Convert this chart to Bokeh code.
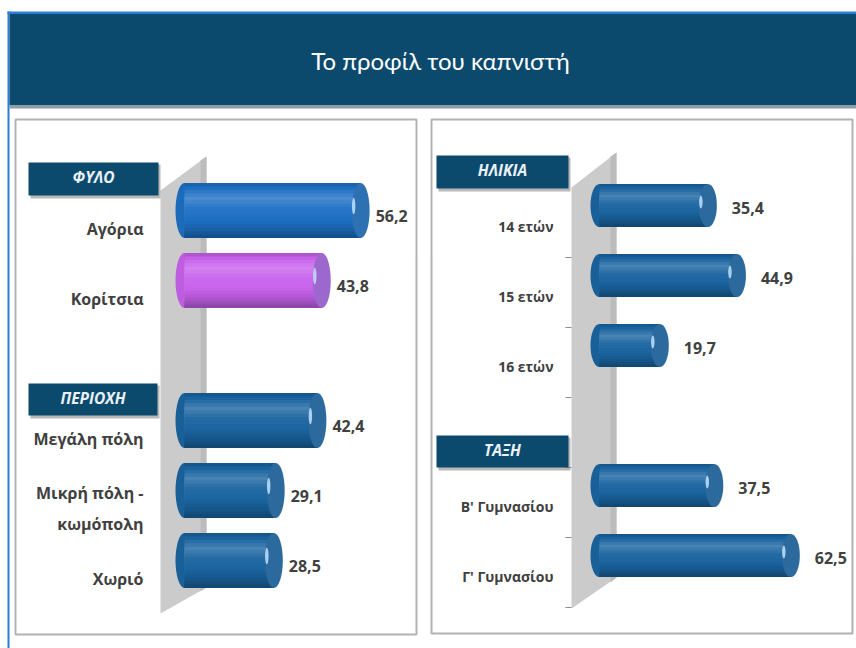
from bokeh.plotting import figure
from bokeh.models import Range1d
from bokeh.core.properties import value
from bokeh.embed import file_html
from bokeh.resources import INLINE

# ---------------- data ----------------
title = "Το προφίλ του καπνιστή"

left_groups = ["ΦΥΛΟ", "ΠΕΡΙΟΧΗ"]
left_cats = [["Αγόρια", "Κορίτσια"], ["Μεγάλη πόλη", "Μικρή πόλη -\nκωμόπολη", "Χωριό"]]
left_vals = [[56.2, 43.8], [42.4, 29.1, 28.5]]

right_groups = ["ΗΛΙΚΙΑ", "ΤΑΞΗ"]
right_cats = [["14 ετών", "15 ετών", "16 ετών"], ["Β' Γυμνασίου", "Γ' Γυμνασίου"]]
right_vals = [[35.4, 44.9, 19.7], [37.5, 62.5]]

left_colors = ["#1e70c4", "#c862ec", "#1a64a0", "#1a64a0", "#1a64a0"]
right_colors = ["#1a64a0"] * 5

# ---------------- helpers ----------------
W, H = 856, 648
FONT = "Lato"
LFONT = "Open Sans"


def slots(groups):
    out, k = [], 0
    for g, cats in enumerate(groups):
        if g > 0:
            k += 1
        for _ in cats:
            out.append(k)
            k += 1
    return out


def flat(groups):
    return [c for g in groups for c in g]


def mix(c1, c2, f):
    a = [int(c1[i:i + 2], 16) for i in (1, 3, 5)]
    b = [int(c2[i:i + 2], 16) for i in (1, 3, 5)]
    return "#" + "".join(f"{round(x + (y - x) * f):02x}" for x, y in zip(a, b))


def shade(c, s):
    return mix(c, "#ffffff", s) if s >= 0 else mix(c, "#000000", -s)


def fmt(v):
    return f"{v:.1f}".replace(".", ",")


p = figure(width=W, height=H, x_range=Range1d(0, W), y_range=Range1d(H, 0),
           output_backend="svg", toolbar_location=None, min_border=0,
           x_axis_location=None, y_axis_location=None, outline_line_color=None,
           background_fill_color="white", border_fill_color="white")
p.xgrid.visible = False
p.ygrid.visible = False

# value scales of the two panels (pixel origin, pixels per unit)
LX0, LB = 184, 3.134
RX0, RB = 599, 3.061
LY0, RY0, DY = 210, 205, 70
p.extra_x_ranges = {"L": Range1d(-LX0 / LB, (W - LX0) / LB),
                    "R": Range1d(-RX0 / RB, (W - RX0) / RB)}
p.extra_y_ranges = {"L": Range1d((H - LY0) / DY, -LY0 / DY),
                    "R": Range1d((H - RY0) / DY, -RY0 / DY)}

# ---------------- frame / header ----------------
p.quad(left=7, right=W, top=11, bottom=13.5, fill_color="#2a7fd4", line_color=None)
p.quad(left=7, right=9, top=11, bottom=H, fill_color="#2a7fd4", line_color=None)
p.quad(left=9, right=W, top=13.5, bottom=105, fill_color="#0b4a6d", line_color=None)
p.quad(left=9, right=W, top=105, bottom=108, fill_color="#8e9da4", line_color=None)
p.text(x=[440], y=[60], text=[title], text_color="white", text_font=value(FONT),
       text_font_size="24px", text_align="center", text_baseline="middle")

# panels
p.quad(left=[15, 431], right=[416, 852], top=[119, 119], bottom=[634, 633],
       fill_color="white", line_color="#b2b2b2", line_width=2)

# 3-D back walls
p.patches(xs=[[160, 206, 206, 160], [571, 616, 616, 571]],
          ys=[[190, 156, 587, 613], [187, 152, 577, 608]],
          fill_color="#cbcbcb", line_color=None)
p.patches(xs=[[200, 206, 206, 200], [610, 616, 616, 610]],
          ys=[[160, 156, 587, 591], [156, 152, 577, 582]],
          fill_color="#bcbcbc", line_color=None)

# right panel axis ticks (category boundaries on the front plane)
r_slots = slots(right_cats)
ticks = [i + 0.5 + 17 / DY for i in range(max(r_slots) + 1)]
p.segment(x0=565, x1=571, y0=ticks, y1=ticks, line_color="#8c8c8c", line_width=1,
          y_range_name="R")

# section boxes
boxes = [(28, 158, 162, 195, left_groups[0]), (28, 157, 383, 415, left_groups[1]),
         (436, 568, 155, 188, right_groups[0]), (436, 568, 435, 467, right_groups[1])]
p.quad(left=[b[0] + 2 for b in boxes], right=[b[1] + 2 for b in boxes],
       top=[b[2] + 2 for b in boxes], bottom=[b[3] + 3 for b in boxes],
       fill_color="#7d7d7d", fill_alpha=0.55, line_color=None)
p.quad(left=[b[0] for b in boxes], right=[b[1] for b in boxes],
       top=[b[2] for b in boxes], bottom=[b[3] for b in boxes],
       fill_color="#0b4a6d", line_color=None)
p.text(x=[(b[0] + b[1]) / 2 for b in boxes], y=[(b[2] + b[3]) / 2 - 2 for b in boxes],
       text=[b[4] for b in boxes], text_color="#eaf1f7", text_font=value(LFONT),
       text_font_style="bold italic", text_font_size="15.5px",
       text_align="center", text_baseline="middle")

# vertical shading profile of a cylinder (top -> bottom): (position, lightness)
PROFILE = [(0.0, -0.18), (0.1, 0.0), (0.28, 0.2), (0.45, 0.05), (0.65, 0.0),
           (0.85, -0.15), (1.0, -0.32)]
NSTRIP = 16


def profile_at(t):
    for (t0, s0), (t1, s1) in zip(PROFILE, PROFILE[1:]):
        if t0 <= t <= t1:
            return s0 + (s1 - s0) * (t - t0) / (t1 - t0)
    return PROFILE[-1][1]


# ---------------- cylinders ----------------
def cylinders(vals, pos, colors, xr, yr, hpx, scale):
    h = hpx / DY
    cap = [mix(c, "#4c7294", 0.35) for c in colors]
    zeros = [0] * len(vals)
    kw = dict(x_range_name=xr, y_range_name=yr, line_color=None)
    # left rounded end
    p.ellipse(x=zeros, y=pos, width=18, height=hpx, width_units="screen",
              height_units="screen", fill_color=[shade(c, -0.05) for c in colors], **kw)
    # body: overlapping strips, each running from its top edge to the bar bottom
    for k in range(NSTRIP):
        t0 = k / NSTRIP
        s = profile_at((k + 0.5) / NSTRIP)
        p.hbar(y=[y + ((t0 + 1) / 2 - 0.5) * h for y in pos], left=0, right=vals,
               height=(1 - t0) * h, fill_color=[shade(c, s) for c in colors], **kw)
    # right end cap
    p.ellipse(x=vals, y=pos, width=18, height=hpx, width_units="screen",
              height_units="screen", fill_color=cap, **kw)
    p.ellipse(x=[v - 7 / scale for v in vals], y=[y - 0.08 * h for y in pos],
              width=3.5, height=hpx * 0.3, width_units="screen", height_units="screen",
              fill_color="#bfe3ff", fill_alpha=0.85, **kw)


l_vals, l_slots = flat(left_vals), slots(left_cats)
r_vals = flat(right_vals)
cylinders(l_vals, l_slots, left_colors, "L", "L", 55, LB)
cylinders(r_vals, r_slots, right_colors, "R", "R", 43, RB)

# value labels
p.text(x=l_vals, y=l_slots, text=[fmt(v) for v in l_vals], x_offset=15, y_offset=5,
       text_color="#404040", text_font=value(LFONT), text_font_style="bold",
       text_font_size="16px", text_baseline="middle",
       x_range_name="L", y_range_name="L")
p.text(x=r_vals, y=r_slots, text=[fmt(v) for v in r_vals], x_offset=24, y_offset=2,
       text_color="#404040", text_font=value(LFONT), text_font_style="bold",
       text_font_size="16px", text_baseline="middle",
       x_range_name="R", y_range_name="R")

# category labels
p.text(x=[143] * len(l_slots), y=l_slots, text=flat(left_cats), y_offset=18,
       text_color="#404040", text_font=value(LFONT), text_font_style="bold",
       text_font_size="16px", text_align="right", text_baseline="middle",
       text_line_height=1.45, y_range_name="L")
p.text(x=[553] * len(r_slots), y=r_slots, text=flat(right_cats), y_offset=21,
       text_color="#404040", text_font=value(LFONT), text_font_style="bold",
       text_font_size="14px", text_align="right", text_baseline="middle",
       y_range_name="R")

open("out.html", "w").write(file_html(p, INLINE))
